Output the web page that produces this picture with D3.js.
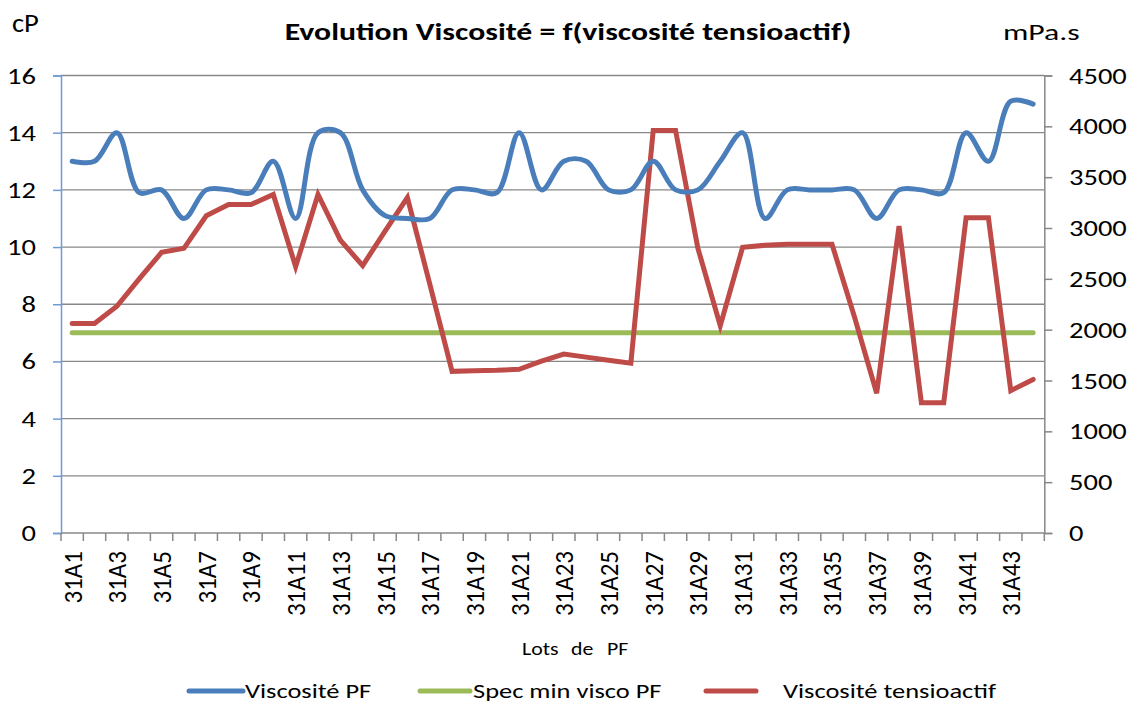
<!DOCTYPE html>
<html>
<head>
<meta charset="utf-8">
<script src="https://cdn.jsdelivr.net/npm/d3@7"></script>
<style>
  html, body { margin: 0; padding: 0; background: #fff; }
  svg text { font-family: Carlito, Lato, "Liberation Sans", sans-serif; fill: #000; }
</style>
</head>
<body>
<svg id="chart" width="1129" height="704"></svg>
<script>
const categories = ["31A1","31A2","31A3","31A4","31A5","31A6","31A7","31A8","31A9","31A10",
  "31A11","31A12","31A13","31A14","31A15","31A16","31A17","31A18","31A19","31A20",
  "31A21","31A22","31A23","31A24","31A25","31A26","31A27","31A28","31A29","31A30",
  "31A31","31A32","31A33","31A34","31A35","31A36","31A37","31A38","31A39","31A40",
  "31A41","31A42","31A43","31A44"];
const viscositePF = [13, 13, 14, 11.9, 12, 11, 12, 12, 11.9, 13,
  11, 14, 14, 12, 11.1, 11, 11, 12, 12, 11.9,
  14, 12, 13, 13, 12, 12, 13, 12, 12, 13,
  14, 11, 12, 12, 12, 12, 11, 12, 12, 11.9,
  14, 13, 15.1, 15];
const specMinVisco = [7,7,7,7,7,7,7,7,7,7, 7,7,7,7,7,7,7,7,7,7, 7,7,7,7,7,7,7,7,7,7,
  7,7,7,7,7,7,7,7,7,7, 7,7,7,7];
const viscoTensioactif = [2060, 2060, 2230, 2500, 2760, 2800, 3120, 3230, 3230, 3330,
  2620, 3330, 2880, 2630, 2970, 3300, 2450, 1590, 1595, 1600,
  1610, 1690, 1760, 1730, 1700, 1670, 3960, 3960, 2800, 2040,
  2810, 2830, 2840, 2840, 2840, 2130, 1375, 3020, 1280, 1280,
  3100, 3100, 1400, 1510];
const leftTicks = [0, 2, 4, 6, 8, 10, 12, 14, 16];
const rightTicks = [0, 500, 1000, 1500, 2000, 2500, 3000, 3500, 4000, 4500];
const seriesNames = ["Viscosité PF", "Spec min visco PF", "Viscosité tensioactif"];
const xTitleWords = ["Lots", "de", "PF"];
const colors = ["#4A7EBB", "#9BBB59", "#BE4B48"];

const svg = d3.select("#chart");
const L = 61, R = 1044.3, T = 75.5, B = 533;
const SX = 1.24; // horizontal stretch of the reference's text

const x = d3.scaleBand().domain(categories).range([L, R]);
const xc = c => x(c) + x.bandwidth() / 2;
const yL = d3.scaleLinear().domain([0, 16]).range([B, T]);
const yR = d3.scaleLinear().domain([0, 4500]).range([B, T]);

function stext(parent, tx, ty, str, size, opts = {}) {
  const t = parent.append("text")
    .attr("transform", `translate(${tx},${ty}) scale(${opts.sx || SX},1)`)
    .attr("font-size", size)
    .attr("text-anchor", opts.anchor || "start")
    .text(str);
  if (opts.bold) t.attr("font-weight", "bold");
  if (opts.dy) t.attr("dy", opts.dy);
  return t;
}

// gridlines
svg.append("g").selectAll("line").data(leftTicks.filter(d => d > 0)).join("line")
  .attr("x1", L).attr("x2", R)
  .attr("y1", d => yL(d)).attr("y2", d => yL(d))
  .attr("stroke", "#888").attr("stroke-width", 1.3);

// left axis
const gl = svg.append("g").attr("transform", `translate(${L},0)`)
  .call(d3.axisLeft(yL).tickValues(leftTicks).tickSize(8).tickFormat(""));
gl.select(".domain").attr("stroke", "#6D9BD6").attr("stroke-width", 1.5);
gl.selectAll(".tick line").attr("stroke", "#6D9BD6").attr("stroke-width", 1.5);
const glt = svg.append("g");
leftTicks.forEach(v => stext(glt, 36, yL(v), d3.format("d")(v), 23, {anchor: "end", dy: "0.35em"}));

// right axis
const gr = svg.append("g").attr("transform", `translate(${R},0)`)
  .call(d3.axisRight(yR).tickValues(rightTicks).tickSize(8).tickFormat(""));
gr.select(".domain").attr("stroke", "#888").attr("stroke-width", 1.5);
gr.selectAll(".tick line").attr("stroke", "#888").attr("stroke-width", 1.5);
const grt = svg.append("g");
rightTicks.forEach(v => stext(grt, 1069, yR(v), d3.format("d")(v), 23, {dy: "0.35em"}));

// bottom axis line + ticks at band boundaries
svg.append("line").attr("x1", L).attr("x2", R).attr("y1", B).attr("y2", B)
  .attr("stroke", "#888").attr("stroke-width", 1.5);
svg.append("g").selectAll("line").data(categories.concat(["__end"])).join("line")
  .attr("x1", (d, i) => i < categories.length ? x(d) : R)
  .attr("x2", (d, i) => i < categories.length ? x(d) : R)
  .attr("y1", B).attr("y2", B + 8)
  .attr("stroke", "#888").attr("stroke-width", 1.5);

// x labels (every other)
svg.append("g").selectAll("text").data(categories.filter((d, i) => i % 2 === 0)).join("text")
  .attr("transform", d => `translate(${xc(d) + 9.5},${B + 18}) scale(1.1,1) rotate(-90)`)
  .attr("text-anchor", "end")
  .attr("font-size", 25)
  .text(d => d);

// lines
const lineBlue = d3.line().x((d, i) => xc(categories[i])).y(d => yL(d)).curve(d3.curveCatmullRom.alpha(0.5));
const lineGreen = d3.line().x((d, i) => xc(categories[i])).y(d => yL(d));
const lineRed = d3.line().x((d, i) => xc(categories[i])).y(d => yR(d));

svg.append("path").attr("d", lineGreen(specMinVisco)).attr("fill", "none")
  .attr("stroke", colors[1]).attr("stroke-width", 5).attr("stroke-linecap", "round");
svg.append("path").attr("d", lineRed(viscoTensioactif)).attr("fill", "none")
  .attr("stroke", colors[2]).attr("stroke-width", 5).attr("stroke-linecap", "round").attr("stroke-linejoin", "miter");
svg.append("path").attr("d", lineBlue(viscositePF)).attr("fill", "none")
  .attr("stroke", colors[0]).attr("stroke-width", 5).attr("stroke-linecap", "round").attr("stroke-linejoin", "round");

// titles
stext(svg, 568, 40, "Evolution Viscosité = f(viscosité tensioactif)", 25, {anchor: "middle", bold: true, sx: 1.27});
stext(svg, 12, 32, "cP", 26, {sx: 1.1});
stext(svg, 1003, 40, "mPa.s", 23, {sx: 1.38});
const xtPos = [522, 571, 607];
xTitleWords.forEach((w, i) => stext(svg, xtPos[i], 655, w, 19, {sx: 1.15}));

// legend
const legend = [
  {name: seriesNames[0], color: colors[0], x1: 189, x2: 243, tx: 245},
  {name: seriesNames[1], color: colors[1], x1: 420, x2: 470, tx: 473},
  {name: seriesNames[2], color: colors[2], x1: 706, x2: 756, tx: 783}
];
const lg = svg.append("g");
legend.forEach(d => {
  lg.append("line").attr("x1", d.x1).attr("x2", d.x2).attr("y1", 691).attr("y2", 691)
    .attr("stroke", d.color).attr("stroke-width", 5).attr("stroke-linecap", "round");
  stext(lg, d.tx, 698, d.name, 21, {sx: 1.26});
});
</script>
</body>
</html>
